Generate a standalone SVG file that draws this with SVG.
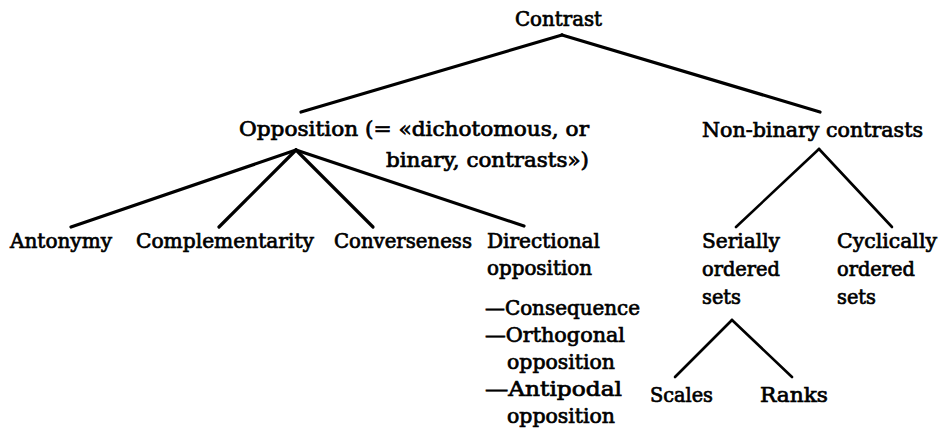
<svg xmlns="http://www.w3.org/2000/svg" width="943" height="442" viewBox="0 0 943 442">
<style>
text{font-family:"DejaVu Serif","Liberation Serif",serif;font-size:20px;fill:#000;stroke:#000;stroke-width:0.7}
.c line{stroke:#000;stroke-width:3.2;stroke-linecap:round}
.c .thin{stroke-width:2.6}
</style>
<rect width="943" height="442" fill="#fff"/>
<g class="c" id="connectors">
<line x1="562" y1="35" x2="301" y2="112"/>
<line x1="562" y1="35" x2="820" y2="112"/>
<line x1="296" y1="150" x2="71" y2="227"/>
<line x1="296" y1="150" x2="219" y2="227"/>
<line x1="296" y1="150" x2="373" y2="227"/>
<line x1="296" y1="150" x2="524" y2="226"/>
<line class="thin" x1="819" y1="149" x2="736" y2="227"/>
<line class="thin" x1="819" y1="149" x2="892" y2="227"/>
<line class="thin" x1="732" y1="320" x2="675" y2="377"/>
<line class="thin" x1="732" y1="320" x2="792" y2="377"/>
</g>
<g id="contrast"><text x="515" y="26" textLength="87" lengthAdjust="spacingAndGlyphs">Contrast</text></g>
<g id="opposition">
<text x="239" y="136" textLength="350" lengthAdjust="spacingAndGlyphs">Opposition (=  «dichotomous, or</text>
<text x="386" y="167" textLength="203" lengthAdjust="spacingAndGlyphs">binary, contrasts»)</text>
</g>
<g id="nonbinary"><text x="702" y="137" textLength="221" lengthAdjust="spacingAndGlyphs">Non-binary contrasts</text></g>
<g id="antonymy"><text x="10" y="248" textLength="102" lengthAdjust="spacingAndGlyphs">Antonymy</text></g>
<g id="complementarity"><text x="136" y="248" textLength="178" lengthAdjust="spacingAndGlyphs">Complementarity</text></g>
<g id="converseness"><text x="334" y="248" textLength="138" lengthAdjust="spacingAndGlyphs">Converseness</text></g>
<g id="directional">
<text x="487" y="248" textLength="113" lengthAdjust="spacingAndGlyphs">Directional</text>
<text x="487" y="275" textLength="105" lengthAdjust="spacingAndGlyphs">opposition</text>
<text x="485" y="315" textLength="155" lengthAdjust="spacingAndGlyphs">—Consequence</text>
<text x="485" y="342" textLength="140" lengthAdjust="spacingAndGlyphs">—Orthogonal</text>
<text x="507" y="369" textLength="108" lengthAdjust="spacingAndGlyphs">opposition</text>
<text x="485" y="396" textLength="137" lengthAdjust="spacingAndGlyphs">—Antipodal</text>
<text x="507" y="423" textLength="108" lengthAdjust="spacingAndGlyphs">opposition</text>
</g>
<g id="serially">
<text x="702" y="248" textLength="78" lengthAdjust="spacingAndGlyphs">Serially</text>
<text x="702" y="276" textLength="78" lengthAdjust="spacingAndGlyphs">ordered</text>
<text x="702" y="304" textLength="39" lengthAdjust="spacingAndGlyphs">sets</text>
</g>
<g id="cyclically">
<text x="837" y="248" textLength="100" lengthAdjust="spacingAndGlyphs">Cyclically</text>
<text x="837" y="276" textLength="78" lengthAdjust="spacingAndGlyphs">ordered</text>
<text x="837" y="304" textLength="39" lengthAdjust="spacingAndGlyphs">sets</text>
</g>
<g id="scales"><text x="650" y="402" textLength="63" lengthAdjust="spacingAndGlyphs">Scales</text></g>
<g id="ranks"><text x="760" y="402" textLength="68" lengthAdjust="spacingAndGlyphs">Ranks</text></g>
</svg>
